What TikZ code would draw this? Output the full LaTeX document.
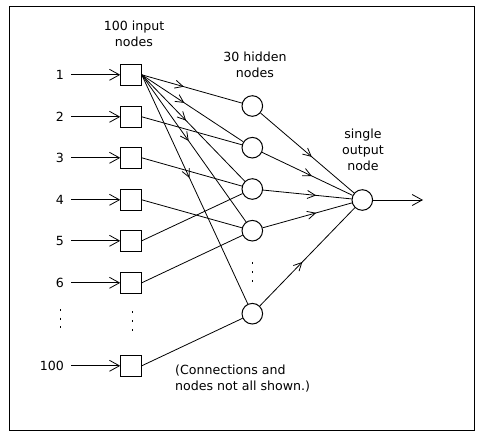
\documentclass[tikz,border=0pt]{standalone}
\usepackage{fontspec}
\setmainfont{DejaVu Sans}
\usetikzlibrary{arrows.meta,decorations.markings}
\tikzset{
  inbox/.style={draw,rectangle,minimum width=20.5pt,minimum height=21pt,inner sep=0pt,line width=1pt},
  hid/.style={draw,circle,minimum size=20.6pt,inner sep=0pt,line width=1pt},
  lbl/.style={font=\fontsize{12.6}{16}\selectfont,inner sep=0pt},
  conn/.style={line width=0.8pt},
  barb/.style={-{Straight Barb[length=10pt,width=11pt]}},
  midarrow/.style={postaction={decorate,decoration={markings,mark=at position #1 with {\arrow{Straight Barb[length=8pt,width=8pt]}}}}},
  dotseg/.style={line width=1pt}
}
\begin{document}
\begin{tikzpicture}[x=1pt,y=-1pt]
\useasboundingbox (0,0) rectangle (485,439);
\draw[line width=1pt] (9.5,6) rectangle (474,430);
% input nodes
\foreach \n/\y in {1/74.8,2/116.8,3/157.8,4/199.8,5/240.8,6/282.8,100/365.8}{
  \node[inbox] (in\n) at (131,\y) {};
  \node[lbl,anchor=east] (lab\n) at (64,\y) {\n};
  \coordinate (src\n) at (71,\y);
  \draw[conn,barb] (src\n) -- (in\n.west);
}
% hidden nodes
\node[hid] (h1) at (252.3,106) {};
\node[hid] (h2) at (252.3,147.7) {};
\node[hid] (h3) at (252.3,189) {};
\node[hid] (h4) at (252.3,230.7) {};
\node[hid] (h5) at (252.3,313.7) {};
% output
\node[hid] (out) at (362.3,200) {};
\coordinate (outend) at (423,200);
\draw[conn,barb] (out) -- (outend);
% input 1 connections with arrows
\draw[conn,midarrow=0.42] (in1.east) -- (h1);
\draw[conn,midarrow=0.42] (in1.east) -- (h2);
\draw[conn,midarrow=0.43] (in1.east) -- (h3);
\draw[conn,midarrow=0.45] (in1.east) -- (h4);
\draw[conn,midarrow=0.45] (in1.east) -- (h5);
% other input connections
\draw[conn] (in2.east) -- (h2);
\draw[conn] (in3.east) -- (h3);
\draw[conn] (in4.east) -- (h4);
\draw[conn] (in5.east) -- (h3);
\draw[conn] (in6.east) -- (h4);
\draw[conn] (in100.east) -- (h5);
% hidden to output
\draw[conn,midarrow=0.55] (h1) -- (out);
\draw[conn,midarrow=0.55] (h2) -- (out);
\draw[conn,midarrow=0.6] (h3) -- (out);
\draw[conn,midarrow=0.6] (h4) -- (out);
\draw[conn,midarrow=0.45] (h5) -- (out);
% dots
\foreach \y in {309,317.5,326}{\draw[dotseg] (60,\y) -- (60,\y+2);}
\foreach \y in {311,320,329}{\draw[dotseg] (132,\y) -- (132,\y+2);}
\foreach \y in {262,271,280}{\draw[dotseg] (252,\y) -- (252,\y+2);}
% texts
\node[lbl,align=center] (tin) at (134,33.7) {100 input\\nodes};
\node[lbl,align=center] (thid) at (255,64.5) {30 hidden\\nodes};
\node[lbl,align=center] (tout) at (363,150.3) {single\\output\\node};
\node[lbl,align=left,anchor=west] (tnote) at (175,378.7) {(Connections and\\nodes not all shown.)};
\end{tikzpicture}
\end{document}
